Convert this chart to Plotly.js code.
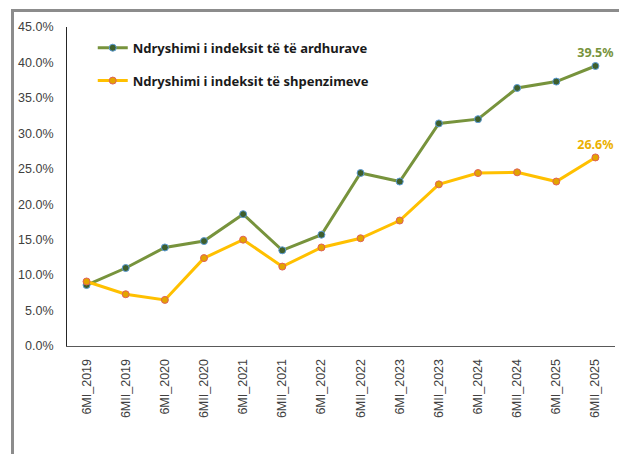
<!DOCTYPE html>
<html>
<head>
<meta charset="utf-8">
<script src="https://cdn.plot.ly/plotly-3.0.1.min.js"></script>
<style>
html,body{margin:0;padding:0;background:#fff;overflow:hidden;}
#frame{position:absolute;left:11px;top:9px;width:700px;height:600px;border-left:3px solid #8c8c8c;border-top:3px solid #8c8c8c;box-sizing:border-box;}
#chart{position:absolute;left:0;top:0;width:619px;height:454px;}
</style>
</head>
<body>
<div id="frame"></div>
<div id="chart"></div>
<script>
const categories = ["6MI_2019","6MII_2019","6MI_2020","6MII_2020","6MI_2021","6MII_2021","6MI_2022","6MII_2022","6MI_2023","6MII_2023","6MI_2024","6MII_2024","6MI_2025","6MII_2025"];
const incomeIndex = [8.6, 11.0, 13.9, 14.8, 18.6, 13.5, 15.7, 24.4, 23.2, 31.4, 32.0, 36.4, 37.3, 39.5];
const spendingIndex = [9.1, 7.3, 6.5, 12.4, 15.0, 11.2, 13.9, 15.2, 17.7, 22.8, 24.4, 24.5, 23.2, 26.6];
const seriesNames = ["Ndryshimi i indeksit të të ardhurave", "Ndryshimi i indeksit të shpenzimeve"];
const yTicks = [0,5,10,15,20,25,30,35,40,45];

function lastLabel(arr){ return arr.map((v,i)=> i===arr.length-1 ? v.toFixed(1)+"%" : ""); }

const traces = [
  {
    x: categories, y: incomeIndex, name: seriesNames[0], legendgroup: "a",
    type: "scatter", mode: "lines+markers+text",
    text: lastLabel(incomeIndex), textposition: "top center",
    textfont: {family: "Noto Sans, sans-serif", size: 12.5, color: "#77933C", weight: "bold"},
    line: {color: "#77933C", width: 3},
    marker: {size: 7, color: "#3E5F2C", line: {color: "#5B9BD5", width: 1}},
    cliponaxis: false
  },
  {
    x: categories, y: spendingIndex, name: seriesNames[1], legendgroup: "b",
    type: "scatter", mode: "lines+markers+text",
    text: lastLabel(spendingIndex), textposition: "top center",
    textfont: {family: "Noto Sans, sans-serif", size: 12.5, color: "#EBB000", weight: "bold"},
    line: {color: "#FFC000", width: 3},
    marker: {size: 7, color: "#E3A400", line: {color: "#E0605A", width: 1}},
    cliponaxis: false
  }
];

const layout = {
  width: 619, height: 454,
  margin: {l: 67, r: 4, t: 27, b: 108},
  paper_bgcolor: "rgba(0,0,0,0)", plot_bgcolor: "rgba(0,0,0,0)",
  showlegend: true,
  legend: {
    x: 0.047, y: 0.982, xanchor: "left", yanchor: "top",
    bgcolor: "rgba(0,0,0,0)", borderwidth: 0, tracegroupgap: 13,
    font: {family: "Noto Sans, sans-serif", size: 13, color: "#1a1a1a", weight: "bold"}
  },
  xaxis: {
    type: "category", range: [-0.5, 13.5],
    showline: true, linecolor: "#595959", linewidth: 1,
    showgrid: false, zeroline: false,
    tickangle: -90, ticks: "outside", ticklen: 7, tickcolor: "rgba(0,0,0,0)",
    tickfont: {family: "Liberation Sans, Arial, sans-serif", size: 12.5, color: "#404040"}
  },
  yaxis: {
    range: [0, 45], tickvals: yTicks, ticktext: yTicks.map(v=>v.toFixed(1)+"%"),
    showline: true, linecolor: "#262626", linewidth: 1,
    showgrid: false, zeroline: false,
    ticks: "outside", ticklen: 10, tickcolor: "rgba(0,0,0,0)",
    tickfont: {family: "Liberation Sans, Arial, sans-serif", size: 12.5, color: "#404040"}
  }
};

Plotly.newPlot("chart", traces, layout, {displayModeBar: false, staticPlot: true});
</script>
</body>
</html>
